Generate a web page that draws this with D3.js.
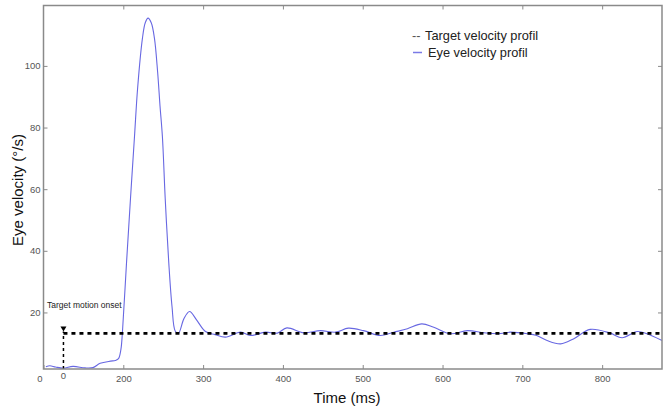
<!DOCTYPE html>
<html>
<head>
<meta charset="utf-8">
<script src="https://cdn.jsdelivr.net/npm/d3@7"></script>
<style>
  html, body { margin: 0; padding: 0; background: #fff; }
  svg { display: block; font-family: "Liberation Sans", Arial, sans-serif; }
</style>
</head>
<body>
<svg id="chart" width="667" height="406"></svg>
<script>
// Eye velocity trace (time in ms on original axis, velocity in deg/s)
const timeMs = [103, 108, 115, 125, 137, 152, 162, 171, 184, 190, 194, 197, 199, 204, 209, 214,
  218, 224, 227.5, 231, 235, 239, 243, 246, 249, 252.5, 257, 261, 265, 269, 276, 283, 292, 303,
  315, 328, 347, 359, 378, 393, 405, 426, 447, 466, 482, 501, 522, 539, 556, 574, 589, 610, 631,
  652, 670, 685, 706, 718, 731, 748, 764, 785, 810, 825, 844, 856, 875];
const eyeVelocity = [2.4, 2.7, 2.3, 1.9, 2.5, 2.0, 2.1, 3.5, 4.2, 4.4, 5.0, 8.0, 14, 36, 57, 77,
  93, 109, 114, 115.5, 114, 109, 98, 87, 77, 57, 36, 22, 14, 13.2, 18, 20.3, 17.5, 13.8,
  12.8, 12.0, 13.6, 12.5, 13.6, 13.3, 15.0, 13.4, 14.1, 13.6, 14.9, 14.1, 12.5, 13.6, 14.7, 16.3, 15.2, 13.1, 14.1,
  13.4, 13.1, 13.6, 13.1, 12.5, 10.9, 9.8, 11.4, 14.5, 13.3, 11.8, 13.8, 13.1, 10.9];

const targetVelocity = 13.2;
const onsetTime = 125;
const xTickValues = [100, 200, 300, 400, 500, 600, 700, 800];
const yTickValues = [20, 40, 60, 80, 100];
const legendLabels = ['Target velocity profil', 'Eye velocity profil'];

const data = timeMs.map((t, i) => ({ t, v: eyeVelocity[i] }));

const svg = d3.select('#chart');
const plot = { left: 43.5, right: 662, top: 5.5, bottom: 369 };

const x = d3.scaleLinear().domain([100, 875]).range([plot.left, plot.right]);
const y = d3.scaleLinear().domain([1.65, 119.6]).range([plot.bottom, plot.top]);

const frameColor = '#8a8a8a';
const tickColor = '#555';

// Eye velocity line
const line = d3.line()
  .x(d => x(d.t))
  .y(d => y(d.v))
  .curve(d3.curveCatmullRom.alpha(0.5));

svg.append('path')
  .datum(data)
  .attr('fill', 'none')
  .attr('stroke', '#6868e2')
  .attr('stroke-width', 1.1)
  .attr('d', line);

// Target velocity (dashed)
svg.append('line')
  .attr('x1', x(onsetTime)).attr('x2', plot.right)
  .attr('y1', y(targetVelocity)).attr('y2', y(targetVelocity))
  .attr('stroke', '#000')
  .attr('stroke-width', 2.6)
  .attr('stroke-dasharray', '4,4');

// Onset marker
svg.append('line')
  .attr('x1', x(onsetTime)).attr('x2', x(onsetTime))
  .attr('y1', plot.bottom).attr('y2', y(targetVelocity) - 2)
  .attr('stroke', '#000')
  .attr('stroke-width', 1.5)
  .attr('stroke-dasharray', '3,3');

const ox = x(onsetTime), oy = y(targetVelocity) - 2;
svg.append('path')
  .attr('d', `M${ox - 3},${oy - 5}L${ox + 3},${oy - 5}L${ox},${oy}Z`)
  .attr('fill', '#000');

svg.append('text')
  .attr('x', 47).attr('y', 307.5)
  .attr('font-size', 8.5)
  .attr('fill', '#222')
  .text('Target  motion onset');

svg.append('text')
  .attr('x', ox).attr('y', 378.5)
  .attr('text-anchor', 'middle')
  .attr('font-size', 9.5)
  .attr('fill', tickColor)
  .text('0');

// Frame
svg.append('rect')
  .attr('x', plot.left).attr('y', plot.top)
  .attr('width', plot.right - plot.left)
  .attr('height', plot.bottom - plot.top)
  .attr('fill', 'none')
  .attr('stroke', frameColor)
  .attr('stroke-width', 1.5);

// Axes with inward ticks
const xAxis = d3.axisBottom(x)
  .tickValues(xTickValues)
  .tickSize(-4)
  .tickPadding(6)
  .tickFormat(d => d === 100 ? '0' : d);

const gx = svg.append('g')
  .attr('transform', `translate(0,${plot.bottom})`)
  .call(xAxis);
gx.select('.domain').remove();
gx.selectAll('line').attr('stroke', frameColor);
gx.selectAll('text')
  .attr('font-size', 9.5)
  .attr('fill', tickColor)
  .attr('font-family', '"Liberation Sans", Arial, sans-serif')
  .attr('dx', d => d === 100 ? -4 : 0);

const gxTop = svg.append('g')
  .attr('transform', `translate(0,${plot.top})`)
  .call(d3.axisTop(x).tickValues(xTickValues.slice(1)).tickSize(-4).tickFormat(''));
gxTop.select('.domain').remove();
gxTop.selectAll('line').attr('stroke', frameColor);

const gy = svg.append('g')
  .attr('transform', `translate(${plot.left},0)`)
  .call(d3.axisLeft(y).tickValues(yTickValues).tickSize(-4).tickPadding(3));
gy.select('.domain').remove();
gy.selectAll('line').attr('stroke', frameColor);
gy.selectAll('text')
  .attr('font-size', 9.5)
  .attr('fill', tickColor)
  .attr('font-family', '"Liberation Sans", Arial, sans-serif');

const gyRight = svg.append('g')
  .attr('transform', `translate(${plot.right},0)`)
  .call(d3.axisRight(y).tickValues(yTickValues).tickSize(-4).tickFormat(''));
gyRight.select('.domain').remove();
gyRight.selectAll('line').attr('stroke', frameColor);

// Axis titles
svg.append('text')
  .attr('x', 347).attr('y', 403)
  .attr('text-anchor', 'middle')
  .attr('font-size', 15)
  .attr('fill', '#111')
  .text('Time (ms)');

svg.append('text')
  .attr('transform', 'translate(23,190) rotate(-90)')
  .attr('text-anchor', 'middle')
  .attr('font-size', 15)
  .attr('fill', '#111')
  .text('Eye velocity (°/s)');

// Legend
const legend = svg.append('g');
legend.append('text')
  .attr('x', 412).attr('y', 40)
  .attr('font-size', 12.8)
  .attr('fill', '#555')
  .text('--');
legend.append('text')
  .attr('x', 425).attr('y', 40)
  .attr('font-size', 12.8)
  .attr('fill', '#222')
  .text(legendLabels[0]);
legend.append('line')
  .attr('x1', 413).attr('x2', 422)
  .attr('y1', 52.5).attr('y2', 52.5)
  .attr('stroke', '#7a7ae6')
  .attr('stroke-width', 1.5);
legend.append('text')
  .attr('x', 428).attr('y', 57)
  .attr('font-size', 12.8)
  .attr('fill', '#222')
  .text(legendLabels[1]);
</script>
</body>
</html>
